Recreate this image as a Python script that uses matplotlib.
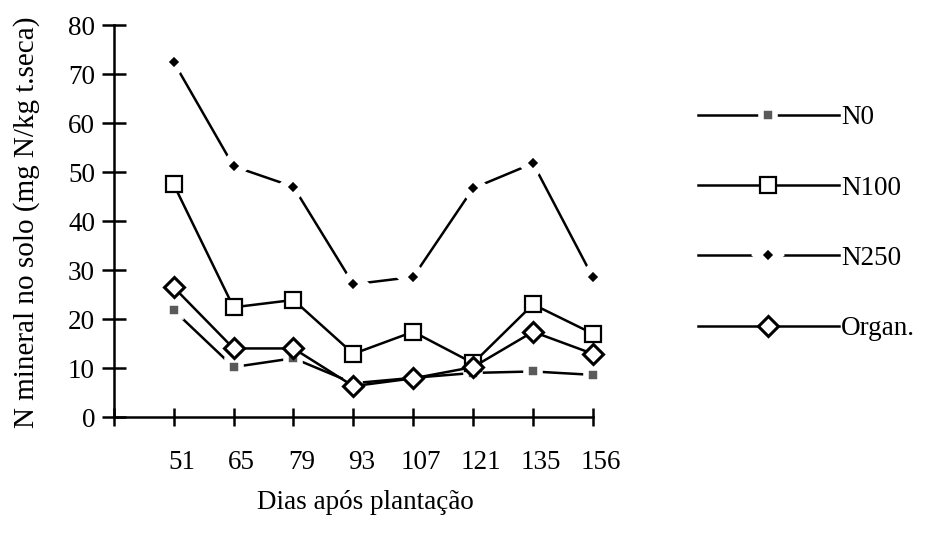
import matplotlib
matplotlib.use("Agg")
import matplotlib.pyplot as plt
import matplotlib.transforms as mtransforms

plt.rcParams["font.family"] = ["Liberation Serif", "DejaVu Serif"]

days = ["51", "65", "79", "93", "107", "121", "135", "156"]
n0 = [21.8, 10.2, 12.0, 6.9, 8.0, 9.0, 9.3, 8.6]
n100 = [47.5, 22.4, 23.9, 12.9, 17.4, 11.0, 23.0, 17.0]
n250 = [72.5, 51.2, 47.0, 27.1, 28.6, 46.7, 51.8, 28.5]
organ = [26.5, 14.0, 14.0, 6.3, 7.9, 10.2, 17.4, 12.9]

INK = "black"
GREY = "#5a5a5a"
FS = 19.5
LW = 1.8

fig = plt.figure(figsize=(9.25, 5.36), dpi=100)
fig.patch.set_facecolor("white")
ax = fig.add_axes([0.123, 0.222, 0.518, 0.731])

x = list(range(1, len(days) + 1))
ax.plot(x, n0, color=INK, lw=LW, marker="s", ms=10, mfc=GREY, mec="white", mew=4,
        label="N0", zorder=2, clip_on=False)
ax.plot(x, n100, color=INK, lw=LW, marker="s", ms=12, mfc="white", mec=INK, mew=1.6,
        label="N100", zorder=3, clip_on=False)
ax.plot(x, n250, color=INK, lw=LW, marker="D", ms=11, mfc=INK, mec="white", mew=6,
        label="N250", zorder=2, clip_on=False)
ax.plot(x, organ, color=INK, lw=LW, marker="D", ms=10, mfc="white", mec=INK, mew=2.2,
        label="Organ.", zorder=4, clip_on=False)

ax.set_xlim(0, len(days))
ax.set_ylim(0, 80)
ax.set_xticks([0] + x)
ax.set_xticklabels([""] + days)
ax.set_yticks(range(0, 81, 10))
for s in ("top", "right"):
    ax.spines[s].set_visible(False)
for s in ("left", "bottom"):
    ax.spines[s].set_linewidth(LW)
ax.tick_params(axis="y", direction="inout", length=17, width=LW, labelsize=FS, pad=5)
ax.tick_params(axis="x", direction="inout", length=13, width=LW, labelsize=FS, pad=17)
# the scanned day labels sit a little right of their ticks
shift = mtransforms.ScaledTranslation(8 / 100, 0, fig.dpi_scale_trans)
for lab in ax.get_xticklabels():
    lab.set_transform(lab.get_transform() + shift)

ax.set_ylabel("N mineral no solo (mg N/kg t.seca)", fontsize=21)
ax.yaxis.set_label_coords(-0.154, 0.497)
ax.set_xlabel("Dias após plantação", fontsize=FS)
ax.xaxis.set_label_coords(0.526, -0.186)

fig.legend(loc="upper left", bbox_to_anchor=(0.728, 0.849), frameon=False, fontsize=FS,
           handlelength=5.2, handletextpad=0.1, labelspacing=1.67, numpoints=1)

fig.savefig("out.png", dpi=100, facecolor="white")
